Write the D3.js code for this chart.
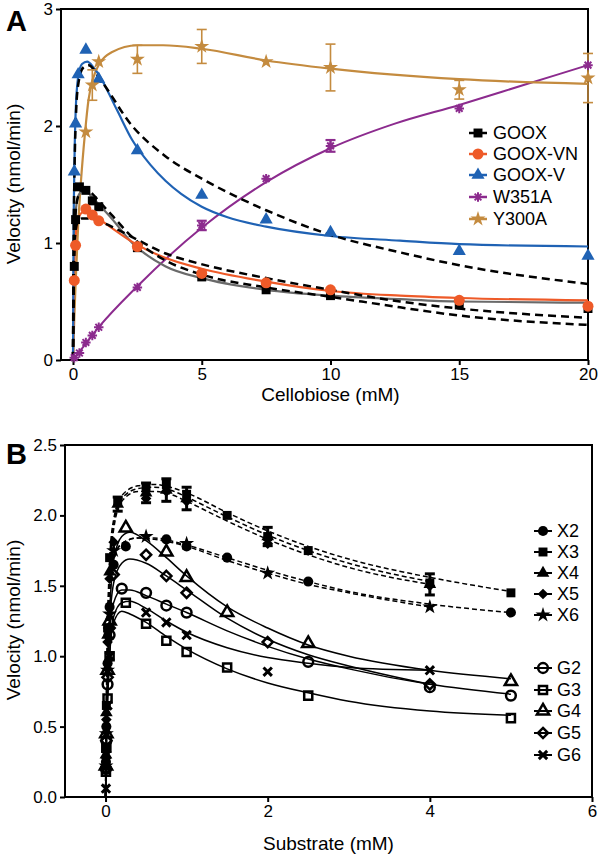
<!DOCTYPE html>
<html><head><meta charset="utf-8">
<script src="https://cdn.jsdelivr.net/npm/d3@7"></script>
<style>
body{margin:0;background:#fff}
svg{display:block}
text{font-family:"Liberation Sans",Arial,Helvetica,sans-serif;fill:#000}
</style></head>
<body><svg id="c" width="600" height="859"></svg>
<script>
// ---------------- Panel A data ----------------
const aXTicks = [0, 5, 10, 15, 20];
const aYTicks = [0, 1, 2, 3];
const aNames = ["GOOX", "GOOX-VN", "GOOX-V", "W351A", "Y300A"];

const gooxS = [0.05, 0.1, 0.25, 0.5, 0.75, 1, 2.5, 5, 7.5, 10, 15, 20];
const gooxV = [0.8, 1.2, 1.48, 1.45, 1.36, 1.31, 0.96, 0.71, 0.6, 0.55, 0.47, 0.44];
const gooxFitS = [0, 0.02, 0.05, 0.1, 0.2, 0.35, 0.5, 0.75, 1, 1.5, 2.3, 3.6, 5, 7.5, 10, 12.7, 15, 20];
const gooxFitV = [0, 0.6, 1.0, 1.25, 1.4, 1.44, 1.44, 1.39, 1.33, 1.21, 1.0, 0.8, 0.7, 0.6, 0.55, 0.52, 0.5, 0.49];
const gooxAltS = [0, 0.02, 0.05, 0.1, 0.2, 0.35, 0.55, 0.8, 1, 1.5, 2.3, 3.6, 5, 7.5, 10, 12.7, 15, 20];
const gooxAltV = [0, 0.6, 1.0, 1.25, 1.4, 1.45, 1.45, 1.41, 1.36, 1.24, 1.05, 0.85, 0.73, 0.62, 0.54, 0.45, 0.38, 0.30];

const vnS = [0.05, 0.1, 0.5, 0.75, 1, 2.5, 5, 7.5, 10, 15, 20];
const vnV = [0.68, 0.98, 1.29, 1.24, 1.19, 0.97, 0.74, 0.66, 0.6, 0.51, 0.46];
const vnFitS = [0, 0.02, 0.05, 0.1, 0.2, 0.35, 0.5, 0.8, 1.05, 1.5, 2.3, 3.5, 5, 7.5, 10, 12.7, 15, 20];
const vnFitV = [0, 0.45, 0.8, 1.05, 1.2, 1.26, 1.27, 1.24, 1.2, 1.13, 1.01, 0.88, 0.78, 0.67, 0.59, 0.55, 0.53, 0.51];
const vnAltS = [0, 0.02, 0.05, 0.1, 0.2, 0.35, 0.6, 1, 1.5, 2.3, 3.6, 4.8, 7.5, 10, 12.7, 15, 20];
const vnAltV = [0, 0.5, 0.9, 1.1, 1.19, 1.21, 1.21, 1.19, 1.14, 1.05, 0.91, 0.83, 0.7, 0.6, 0.5, 0.44, 0.36];

const gvS = [0.05, 0.1, 0.2, 0.5, 1, 2.5, 5, 7.5, 10, 15, 20];
const gvV = [1.61, 2.02, 2.44, 2.65, 2.4, 1.79, 1.41, 1.2, 1.09, 0.93, 0.89];
const gvFitS = [0, 0.02, 0.05, 0.1, 0.2, 0.35, 0.55, 0.8, 1.0, 1.7, 2.3, 3.0, 3.6, 4.2, 5, 6, 7.5, 10, 12.7, 15, 20];
const gvFitV = [0, 1.0, 1.6, 2.1, 2.42, 2.53, 2.55, 2.5, 2.44, 2.14, 1.88, 1.67, 1.53, 1.42, 1.31, 1.22, 1.14, 1.06, 1.02, 0.99, 0.97];
const gvAltS = [0, 0.02, 0.05, 0.1, 0.2, 0.4, 0.6, 1.05, 2.3, 3.6, 5, 6.4, 7.5, 10, 12.7, 15, 20];
const gvAltV = [0, 0.9, 1.5, 2.0, 2.35, 2.5, 2.52, 2.4, 2.0, 1.74, 1.55, 1.39, 1.28, 1.07, 0.92, 0.81, 0.65];

const wS = [0.05, 0.25, 0.5, 0.75, 1, 2.5, 5, 7.5, 10, 15, 20];
const wV = [0.02, 0.06, 0.15, 0.21, 0.28, 0.62, 1.15, 1.55, 1.83, 2.15, 2.52];
const wErr = [0, 0, 0, 0, 0, 0, 0.04, 0, 0.05, 0, 0];
const wFitS = [0, 0.5, 1, 2.5, 5, 7.5, 10, 12.5, 15, 17.5, 20];
const wFitV = [0, 0.14, 0.28, 0.63, 1.13, 1.52, 1.81, 2.02, 2.18, 2.35, 2.52];

const yS = [0.5, 0.75, 1, 2.5, 5, 7.5, 10, 15, 20];
const yV = [1.95, 2.35, 2.55, 2.57, 2.68, 2.55, 2.5, 2.31, 2.41];
const yErr = [0, 0.13, 0, 0.12, 0.145, 0, 0.2, 0.08, 0.21];
const yFitS = [0, 0.05, 0.1, 0.2, 0.3, 0.47, 0.6, 0.8, 1.05, 1.5, 2.5, 3.5, 5, 7.5, 10, 15, 20];
const yFitV = [0, 0.35, 0.65, 1.15, 1.5, 1.95, 2.22, 2.42, 2.54, 2.63, 2.69, 2.69, 2.66, 2.56, 2.49, 2.4, 2.36];

// ---------------- Panel B data ----------------
const bXTicks = [0, 2, 4, 6];
const bYTicks = [0, 0.5, 1.0, 1.5, 2.0, 2.5];
const bNamesX = ["X2", "X3", "X4", "X5", "X6"];
const bNamesG = ["G2", "G3", "G4", "G5", "G6"];

const x2S = [0.005, 0.01, 0.025, 0.05, 0.1, 0.25, 0.75, 1, 1.5, 2.5, 5];
const x2V = [0.25, 0.5, 0.95, 1.35, 1.65, 1.78, 1.83, 1.78, 1.7, 1.53, 1.31];
const x2FitS = [0, 0.005, 0.01, 0.025, 0.05, 0.1, 0.2, 0.4, 0.6, 0.8, 1, 1.5, 2, 2.5, 3, 4, 5];
const x2FitV = [0, 0.3, 0.55, 1.0, 1.4, 1.68, 1.8, 1.84, 1.84, 1.82, 1.79, 1.7, 1.61, 1.53, 1.46, 1.37, 1.31];

const x3S = [0.005, 0.01, 0.025, 0.05, 0.15, 0.5, 0.75, 1, 1.5, 2, 2.5, 4, 5];
const x3V = [0.35, 0.65, 1.2, 1.7, 2.1, 2.2, 2.22, 2.15, 2.0, 1.85, 1.75, 1.52, 1.45];
const x3FitS = [0, 0.005, 0.01, 0.025, 0.05, 0.1, 0.2, 0.4, 0.6, 0.8, 1, 1.5, 2, 2.5, 3, 4, 5];
const x3FitV = [0, 0.35, 0.65, 1.2, 1.68, 1.97, 2.14, 2.21, 2.22, 2.2, 2.16, 2.02, 1.89, 1.78, 1.69, 1.56, 1.46];

const x4S = [0.005, 0.01, 0.025, 0.05, 0.15, 0.5, 0.75, 1, 2, 4];
const x4V = [0.3, 0.6, 1.15, 1.6, 2.08, 2.16, 2.18, 2.12, 1.85, 1.51];
const x4Err = [0, 0, 0, 0, 0.05, 0.07, 0.08, 0.08, 0.065, 0.075];
const x4FitS = [0, 0.005, 0.01, 0.025, 0.05, 0.1, 0.2, 0.4, 0.6, 0.8, 1, 1.5, 2, 2.5, 3, 4];
const x4FitV = [0, 0.32, 0.62, 1.15, 1.62, 1.94, 2.12, 2.19, 2.2, 2.18, 2.13, 1.99, 1.86, 1.75, 1.66, 1.53];

const x5S = [0.005, 0.01, 0.025, 0.05, 0.1, 0.5, 0.75, 1, 2, 4];
const x5V = [0.28, 0.55, 1.1, 1.55, 1.81, 2.12, 2.17, 2.1, 1.8, 1.5];
const x5FitS = [0, 0.005, 0.01, 0.025, 0.05, 0.1, 0.2, 0.4, 0.6, 0.8, 1, 1.5, 2, 2.5, 3, 4];
const x5FitV = [0, 0.3, 0.58, 1.1, 1.58, 1.9, 2.1, 2.17, 2.17, 2.15, 2.1, 1.96, 1.83, 1.72, 1.63, 1.51];

const x6S = [0.005, 0.01, 0.025, 0.05, 0.1, 0.5, 1, 2, 4];
const x6V = [0.22, 0.45, 0.9, 1.3, 1.75, 1.85, 1.8, 1.59, 1.35];
const x6FitS = [0, 0.005, 0.01, 0.025, 0.05, 0.1, 0.2, 0.4, 0.6, 0.8, 1, 1.5, 2, 2.5, 3, 4];
const x6FitV = [0, 0.25, 0.5, 0.95, 1.38, 1.68, 1.8, 1.84, 1.83, 1.81, 1.78, 1.68, 1.59, 1.51, 1.45, 1.35];

const g2S = [0.005, 0.01, 0.025, 0.05, 0.2, 0.5, 0.75, 1, 2.5, 4, 5];
const g2V = [0.2, 0.4, 0.8, 1.15, 1.48, 1.45, 1.36, 1.31, 0.96, 0.78, 0.72];
const g2FitS = [0, 0.005, 0.01, 0.025, 0.05, 0.1, 0.2, 0.3, 0.5, 0.75, 1, 1.5, 2, 2.5, 3, 4, 5];
const g2FitV = [0, 0.22, 0.42, 0.8, 1.15, 1.38, 1.47, 1.47, 1.43, 1.37, 1.31, 1.18, 1.07, 0.98, 0.91, 0.8, 0.73];

const g3S = [0.005, 0.01, 0.025, 0.05, 0.25, 0.5, 0.75, 1, 1.5, 2.5, 5];
const g3V = [0.18, 0.35, 0.7, 1.0, 1.38, 1.23, 1.11, 1.03, 0.92, 0.72, 0.56];
const g3FitS = [0, 0.005, 0.01, 0.025, 0.05, 0.1, 0.2, 0.3, 0.5, 0.75, 1, 1.5, 2, 2.5, 3, 4, 5];
const g3FitV = [0, 0.18, 0.36, 0.7, 1.0, 1.24, 1.32, 1.3, 1.24, 1.14, 1.05, 0.91, 0.81, 0.74, 0.68, 0.61, 0.58];

const g4S = [0.005, 0.01, 0.025, 0.05, 0.25, 0.75, 1, 1.5, 2.5, 5];
const g4V = [0.22, 0.45, 0.9, 1.25, 1.91, 1.74, 1.56, 1.31, 1.09, 0.82];
const g4FitS = [0, 0.005, 0.01, 0.025, 0.05, 0.1, 0.2, 0.3, 0.5, 0.75, 1, 1.5, 2, 2.5, 3, 4, 5];
const g4FitV = [0, 0.24, 0.46, 0.9, 1.3, 1.68, 1.85, 1.88, 1.82, 1.7, 1.57, 1.35, 1.2, 1.08, 1.0, 0.9, 0.84];

const g5S = [0.005, 0.01, 0.025, 0.05, 0.1, 0.5, 0.75, 1, 2, 4];
const g5V = [0.2, 0.4, 0.85, 1.2, 1.58, 1.72, 1.57, 1.45, 1.1, 0.8];
const g5FitS = [0, 0.005, 0.01, 0.025, 0.05, 0.1, 0.2, 0.3, 0.5, 0.75, 1, 1.5, 2, 2.5, 3, 4];
const g5FitV = [0, 0.2, 0.4, 0.85, 1.22, 1.52, 1.66, 1.69, 1.66, 1.57, 1.47, 1.27, 1.12, 1.01, 0.93, 0.8];

const g6S = [0.005, 0.01, 0.025, 0.05, 0.5, 0.75, 1, 2, 4];
const g6V = [0.06, 0.3, 0.65, 1.0, 1.31, 1.24, 1.15, 0.89, 0.9];
const g6FitS = [0, 0.005, 0.01, 0.025, 0.05, 0.1, 0.2, 0.3, 0.5, 0.75, 1, 1.5, 2, 2.5, 3, 4];
const g6FitV = [0, 0.16, 0.32, 0.66, 1.0, 1.28, 1.38, 1.39, 1.34, 1.25, 1.17, 1.06, 0.99, 0.95, 0.92, 0.9];

// ---------------- helpers ----------------
const svg = d3.select("#c");
const zip = (a, b) => a.map((d, i) => [d, b[i]]);

const symAsterisk8 = { draw(ctx, size) { const r = Math.sqrt(size) / 2; const d = r * Math.SQRT1_2;
  ctx.moveTo(-r, 0); ctx.lineTo(r, 0); ctx.moveTo(0, -r); ctx.lineTo(0, r);
  ctx.moveTo(-d, -d); ctx.lineTo(d, d); ctx.moveTo(-d, d); ctx.lineTo(d, -d); } };
const symDiamondSq = { draw(ctx, size) { const r = Math.sqrt(size) * 0.72;
  ctx.moveTo(0, -r); ctx.lineTo(r, 0); ctx.lineTo(0, r); ctx.lineTo(-r, 0); ctx.closePath(); } };
const symTimes = { draw(ctx, size) { const r = Math.sqrt(size) / 2;
  ctx.moveTo(-r, -r); ctx.lineTo(r, r); ctx.moveTo(-r, r); ctx.lineTo(r, -r); } };

function axes(g, x, y, xt, yt, xfmt, yfmt, box) {
  const ax = g.append("g").attr("transform", `translate(0,${box.b})`)
    .call(d3.axisBottom(x).tickValues(xt).tickFormat(xfmt).tickSize(5).tickSizeOuter(0).tickPadding(3));
  const ay = g.append("g").attr("transform", `translate(${box.l},0)`)
    .call(d3.axisLeft(y).tickValues(yt).tickFormat(yfmt).tickSize(5).tickSizeOuter(0).tickPadding(3));
  [ax, ay].forEach(a => {
    a.select(".domain").remove();
    a.selectAll(".tick line").attr("stroke", "#000").attr("stroke-width", 2);
    a.selectAll(".tick text").attr("font-size", 17).attr("font-family", '"Liberation Sans",Arial,sans-serif').attr("fill", "#000");
  });
  g.append("rect").attr("x", box.l).attr("y", box.t).attr("width", box.r - box.l).attr("height", box.b - box.t)
    .attr("fill", "none").attr("stroke", "#000").attr("stroke-width", 2);
}
function curve(g, x, y, S, V, color, w, dash) {
  g.append("path").datum(zip(S, V))
    .attr("d", d3.line().x(d => x(d[0])).y(d => y(d[1])).curve(d3.curveMonotoneX))
    .attr("fill", "none").attr("stroke", color).attr("stroke-width", w)
    .attr("stroke-dasharray", dash || null);
}
function points(g, x, y, S, V, type, size, color, filled, sw) {
  g.append("g").selectAll("path").data(zip(S, V)).join("path")
    .attr("transform", d => `translate(${x(d[0])},${y(d[1])})`)
    .attr("d", d3.symbol().type(type).size(size))
    .attr("fill", filled ? color : "none").attr("stroke", color).attr("stroke-width", sw || 0);
}
function errbars(g, x, y, S, V, E, color, w, cap) {
  const dd = S.map((s, i) => [s, V[i], E[i]]).filter(d => d[2] > 0);
  const eg = g.append("g").attr("stroke", color).attr("stroke-width", w);
  dd.forEach(d => {
    const cx = x(d[0]), y1 = y(d[1] - d[2]), y2 = y(d[1] + d[2]);
    eg.append("line").attr("x1", cx).attr("x2", cx).attr("y1", y1).attr("y2", y2);
    eg.append("line").attr("x1", cx - cap).attr("x2", cx + cap).attr("y1", y1).attr("y2", y1);
    eg.append("line").attr("x1", cx - cap).attr("x2", cx + cap).attr("y1", y2).attr("y2", y2);
  });
}
function legendItem(g, lx, ly, tx, name, type, size, color, filled, sw, lw) {
  g.append("line").attr("x1", lx - 9).attr("x2", lx + 9).attr("y1", ly).attr("y2", ly)
    .attr("stroke", color).attr("stroke-width", lw);
  g.append("path").attr("transform", `translate(${lx},${ly})`)
    .attr("d", d3.symbol().type(type).size(size))
    .attr("fill", filled ? color : "none").attr("stroke", color).attr("stroke-width", sw || 0);
  g.append("text").attr("x", tx).attr("y", ly).attr("dy", "0.36em").attr("font-size", 18).text(name);
}

// ---------------- Panel A ----------------
const C = { goox: "#000", vn: "#EE5A28", gv: "#1F62B4", w: "#8C2B8E", y: "#C48B3F", gray: "#6A6A6A" };
const boxA = { l: 61, r: 588, t: 9, b: 360 };
const xA = d3.scaleLinear().domain([-0.466, 20]).range([boxA.l, boxA.r]);
const yA = d3.scaleLinear().domain([0, 3]).range([boxA.b, boxA.t]);
const gA = svg.append("g");
axes(gA, xA, yA, aXTicks, aYTicks, d3.format("d"), d3.format("d"), boxA);

curve(gA, xA, yA, wFitS, wFitV, C.w, 2);
curve(gA, xA, yA, yFitS, yFitV, C.y, 2.2);
curve(gA, xA, yA, gooxFitS, gooxFitV, C.gray, 2.2);
curve(gA, xA, yA, vnFitS, vnFitV, C.vn, 2.2);
curve(gA, xA, yA, gvFitS, gvFitV, C.gv, 2.2);
curve(gA, xA, yA, gvAltS, gvAltV, "#000", 2.5, "8,5");
curve(gA, xA, yA, vnAltS, vnAltV, "#000", 2.5, "8,5");
curve(gA, xA, yA, gooxAltS, gooxAltV, "#000", 2.5, "8,5");

errbars(gA, xA, yA, yS, yV, yErr, C.y, 1.6, 5);
errbars(gA, xA, yA, wS, wV, wErr, C.w, 2.2, 5);
points(gA, xA, yA, gooxS, gooxV, d3.symbolSquare, 80, C.goox, true);
points(gA, xA, yA, vnS, vnV, d3.symbolCircle, 95, C.vn, true);
points(gA, xA, yA, gvS, gvV, d3.symbolTriangle, 75, C.gv, true);
points(gA, xA, yA, wS, wV, symAsterisk8, 90, C.w, false, 2);
points(gA, xA, yA, yS, yV, d3.symbolStar, 70, C.y, true);

const lgA = svg.append("g");
const lgAy = [133, 154, 175, 197, 219];
legendItem(lgA, 478, lgAy[0], 493, aNames[0], d3.symbolSquare, 80, C.goox, true, 0, 2.5);
legendItem(lgA, 478, lgAy[1], 493, aNames[1], d3.symbolCircle, 95, C.vn, true, 0, 2.5);
legendItem(lgA, 478, lgAy[2], 493, aNames[2], d3.symbolTriangle, 75, C.gv, true, 0, 2.5);
legendItem(lgA, 478, lgAy[3], 493, aNames[3], symAsterisk8, 90, C.w, false, 2, 2.5);
legendItem(lgA, 478, lgAy[4], 493, aNames[4], d3.symbolStar, 70, C.y, true, 0, 2.5);

svg.append("text").attr("x", xA(10)).attr("y", 401).attr("text-anchor", "middle").attr("font-size", 19).text("Cellobiose (mM)");
svg.append("text").attr("transform", "translate(20,184) rotate(-90)").attr("text-anchor", "middle").attr("font-size", 19).text("Velocity (nmol/min)");
svg.append("text").attr("x", 6).attr("y", 31).attr("font-size", 29).attr("font-weight", "bold").text("A");

// ---------------- Panel B ----------------
const boxB = { l: 65, r: 592, t: 445, b: 797 };
const xB = d3.scaleLinear().domain([-0.5, 6]).range([boxB.l, boxB.r]);
const yB = d3.scaleLinear().domain([0, 2.5]).range([boxB.b, boxB.t]);
const gB = svg.append("g");
axes(gB, xB, yB, bXTicks, bYTicks, d3.format("d"), d3.format(".1f"), boxB);

const dB = "5,3";
curve(gB, xB, yB, x2FitS, x2FitV, "#000", 1.5, dB);
curve(gB, xB, yB, x3FitS, x3FitV, "#000", 1.5, dB);
curve(gB, xB, yB, x4FitS, x4FitV, "#000", 1.5, dB);
curve(gB, xB, yB, x5FitS, x5FitV, "#000", 1.5, dB);
curve(gB, xB, yB, x6FitS, x6FitV, "#000", 1.5, dB);
curve(gB, xB, yB, g2FitS, g2FitV, "#000", 1.5);
curve(gB, xB, yB, g3FitS, g3FitV, "#000", 1.5);
curve(gB, xB, yB, g4FitS, g4FitV, "#000", 1.5);
curve(gB, xB, yB, g5FitS, g5FitV, "#000", 1.5);
curve(gB, xB, yB, g6FitS, g6FitV, "#000", 1.5);

errbars(gB, xB, yB, x4S, x4V, x4Err, "#000", 3, 5);
points(gB, xB, yB, x2S, x2V, d3.symbolCircle, 80, "#000", true);
points(gB, xB, yB, x3S, x3V, d3.symbolSquare, 80, "#000", true);
points(gB, xB, yB, x4S, x4V, d3.symbolTriangle, 70, "#000", true);
points(gB, xB, yB, x5S, x5V, symDiamondSq, 55, "#000", true);
points(gB, xB, yB, x6S, x6V, d3.symbolStar, 70, "#000", true);
points(gB, xB, yB, g2S, g2V, d3.symbolCircle, 75, "#000", false, 2.5);
points(gB, xB, yB, g3S, g3V, d3.symbolSquare, 65, "#000", false, 2.5);
points(gB, xB, yB, g4S, g4V, d3.symbolTriangle, 65, "#000", false, 2.5);
points(gB, xB, yB, g5S, g5V, symDiamondSq, 50, "#000", false, 2.5);
points(gB, xB, yB, g6S, g6V, symTimes, 70, "#000", false, 3);

const lgB = svg.append("g");
const lgBx = [531, 552, 573, 594, 615];
const lgBg = [668, 690, 711, 733, 755];
const tX = [d3.symbolCircle, d3.symbolSquare, d3.symbolTriangle, symDiamondSq, d3.symbolStar];
const sX = [80, 80, 70, 55, 70];
const tG = [d3.symbolCircle, d3.symbolSquare, d3.symbolTriangle, symDiamondSq, symTimes];
const sG = [75, 65, 65, 50, 70];
bNamesX.forEach((n, i) => legendItem(lgB, 543, lgBx[i], 557, n, tX[i], sX[i], "#000", true, 0, 2));
bNamesG.forEach((n, i) => legendItem(lgB, 543, lgBg[i], 557, n, tG[i], sG[i], "#000", false, i === 4 ? 3 : 2.5, 2));

svg.append("text").attr("x", xB(2.75)).attr("y", 850).attr("text-anchor", "middle").attr("font-size", 19).text("Substrate (mM)");
svg.append("text").attr("transform", "translate(20,620) rotate(-90)").attr("text-anchor", "middle").attr("font-size", 19).text("Velocity (nmol/min)");
svg.append("text").attr("x", 6).attr("y", 464).attr("font-size", 29).attr("font-weight", "bold").text("B");
</script></body></html>
